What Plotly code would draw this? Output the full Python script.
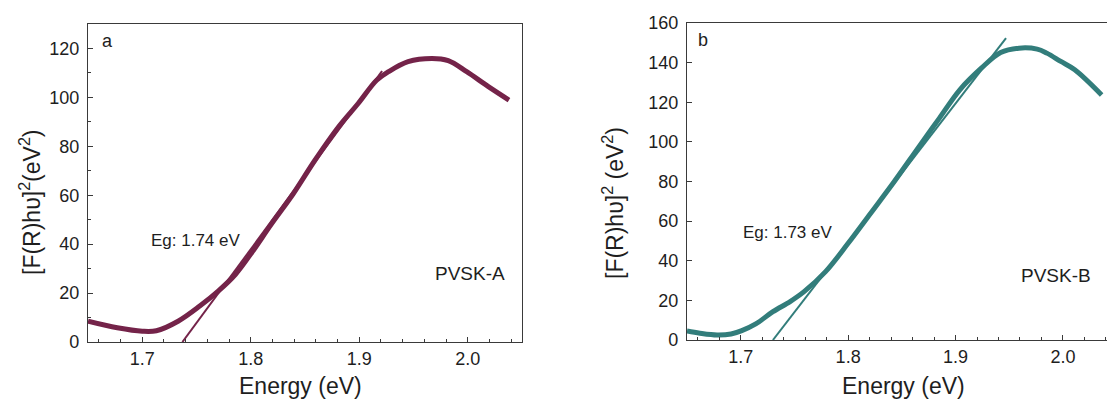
import plotly.graph_objects as go

# Panel a (PVSK-A)
energy_a = [1.650, 1.677, 1.700, 1.713, 1.733, 1.753, 1.770, 1.786, 1.801, 1.819, 1.839,
            1.859, 1.881, 1.899, 1.916, 1.927, 1.945, 1.967, 1.982, 1.999, 2.019, 2.038]
signal_a = [8.5, 5.8, 4.4, 4.6, 8.5, 14.7, 20.8, 27.7, 36.6, 48.2, 60.5,
            74.2, 88.0, 97.5, 107.0, 110.5, 114.6, 115.9, 115.0, 110.5, 104.4, 98.9]
tangent_a_x = [1.737, 1.921]
tangent_a_y = [0.0, 110.8]

# Panel b (PVSK-B)
energy_b = [1.650, 1.662, 1.678, 1.691, 1.701, 1.714, 1.730, 1.746, 1.759, 1.779, 1.800,
            1.821, 1.843, 1.866, 1.885, 1.904, 1.924, 1.942, 1.959, 1.976, 1.985, 1.998,
            2.011, 2.036]
signal_b = [4.5, 3.4, 2.5, 3.0, 4.7, 8.1, 14.3, 19.4, 24.4, 34.5, 48.8,
            64.0, 80.0, 97.6, 112.0, 126.3, 137.2, 145.1, 147.3, 146.8, 144.8, 140.6,
            136.4, 123.7]
tangent_b_x = [1.730, 1.947]
tangent_b_y = [0.0, 152.4]

color_a = "#742349"
color_b = "#327d7b"
axis_col = "#3a3a3a"
text_col = "#1e1e1e"
FONT = "Liberation Sans, Arial, sans-serif"

fig = go.Figure()
fig.add_trace(go.Scatter(x=energy_a, y=signal_a, mode="lines", line=dict(color=color_a, width=5, shape="spline"),
                         xaxis="x", yaxis="y", showlegend=False))
fig.add_trace(go.Scatter(x=tangent_a_x, y=tangent_a_y, mode="lines", line=dict(color=color_a, width=2),
                         xaxis="x", yaxis="y", showlegend=False))
fig.add_trace(go.Scatter(x=energy_b, y=signal_b, mode="lines", line=dict(color=color_b, width=5, shape="spline"),
                         xaxis="x2", yaxis="y2", showlegend=False))
fig.add_trace(go.Scatter(x=tangent_b_x, y=tangent_b_y, mode="lines", line=dict(color=color_b, width=2),
                         xaxis="x2", yaxis="y2", showlegend=False))

W, H = 1107, 405

def px_x(p):
    return p / W

def px_y(p):
    return 1 - p / H

common_x = dict(tickmode="array", tickvals=[1.7, 1.8, 1.9, 2.0], ticktext=["1.7", "1.8", "1.9", "2.0"],
                ticks="inside", ticklen=5, tickwidth=1.2, tickcolor=axis_col,
                minor=dict(dtick=0.02, tick0=1.6, ticks="inside", ticklen=3, tickwidth=1.1, tickcolor=axis_col),
                showline=True, linecolor=axis_col, linewidth=1.4, mirror=True,
                showgrid=False, zeroline=False, automargin=False,
                tickfont=dict(family=FONT, size=18, color=text_col))
common_y = dict(ticks="inside", ticklen=5, tickwidth=1.2, tickcolor=axis_col,
                showline=True, linecolor=axis_col, linewidth=1.4,
                showgrid=False, zeroline=False, ticklabelstandoff=4, automargin=False,
                tickfont=dict(family=FONT, size=18, color=text_col))

fig.update_layout(
    width=W, height=H, margin=dict(l=0, r=0, t=0, b=0, autoexpand=False),
    paper_bgcolor="white", plot_bgcolor="white",
    xaxis=dict(common_x, domain=[px_x(88), px_x(522)], range=[1.65, 2.05], anchor="y"),
    yaxis=dict(common_y, domain=[px_y(342), px_y(24)], range=[0, 130], dtick=20, mirror=True,
               minor=dict(dtick=10, ticks="inside", ticklen=3, tickwidth=1.1, tickcolor=axis_col), anchor="x"),
    xaxis2=dict(common_x, domain=[px_x(687), 1.0], range=[1.65, 2.041], anchor="y2"),
    yaxis2=dict(common_y, domain=[px_y(340), px_y(23)], range=[0, 160], dtick=20, mirror=False, anchor="x2"),
)

ann = []
def txt(x, y, s, size, **kw):
    d = dict(xref="paper", yref="paper", x=px_x(x), y=px_y(y), text=s, showarrow=False,
             font=dict(family=FONT, size=size, color=text_col), xanchor="center", yanchor="middle")
    d.update(kw)
    ann.append(d)

txt(300, 386, "Energy (eV)", 23)
txt(903, 386, "Energy (eV)", 23)
txt(30, 202, "[F(R)hυ]<sup>2</sup>(eV<sup>2</sup>)", 23, textangle=-90)
txt(613, 203, "[F(R)hυ]<sup>2</sup> (eV<sup>2</sup>)", 23, textangle=-90)
txt(107, 41, "a", 18)
txt(703, 40, "b", 18)
txt(196, 240, "Eg: 1.74 eV", 17)
txt(788, 232, "Eg: 1.73 eV", 17)
txt(470, 273, "PVSK-A", 19)
txt(1056, 275, "PVSK-B", 19)
fig.update_layout(annotations=ann)

fig.write_html("out.html")
